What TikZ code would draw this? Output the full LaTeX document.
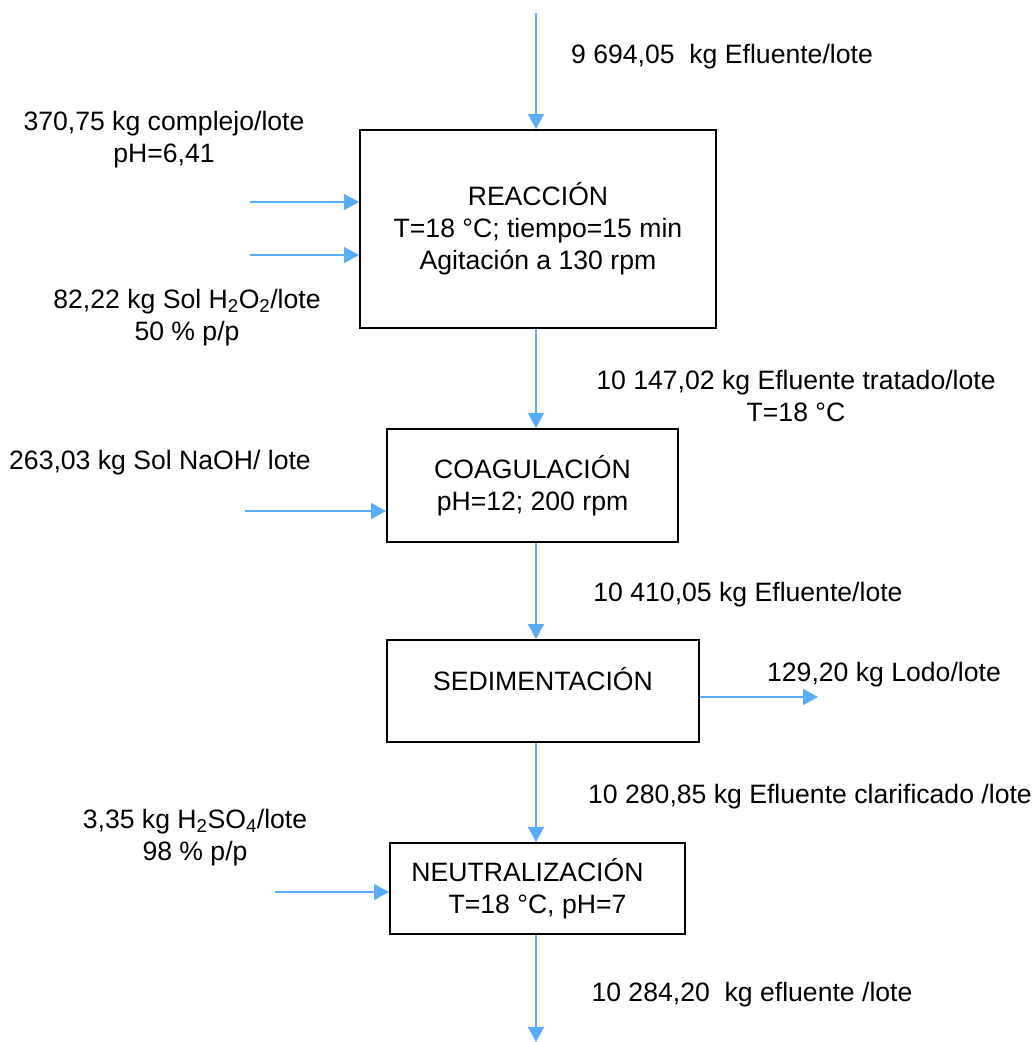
\documentclass[tikz,border=0pt]{standalone}
\usepackage{fontspec}
\setmainfont{Liberation Sans}
\usetikzlibrary{arrows.meta}
\tikzset{
    flow/.style={draw={rgb,255:red,88;green,172;blue,255}, line width=1.3pt, -{Triangle[length=15pt, width=16pt]}},
    proc/.style={draw, rectangle, line width=2pt, align=center, inner sep=0pt},
    lbl/.style={align=center, inner sep=0pt}
}
\begin{document}
\begin{tikzpicture}[x=1pt, y=-1pt, font=\fontsize{26.6}{32}\selectfont]
        \useasboundingbox (0,0) rectangle (1035,1042);
        \node[proc, minimum width=356pt, minimum height=198pt] (boxR) at (538, 229) {REACCIÓN\\T=18 °C; tiempo=15 min\\Agitación a 130 rpm};
        \node[proc, minimum width=291pt, minimum height=113pt] (boxC) at (532.5, 485.5) {COAGULACIÓN\\pH=12; 200 rpm};
        \node[proc, minimum width=312pt, minimum height=102pt, text depth=24pt] (boxS) at (543, 691) {SEDIMENTACIÓN};
        \node[proc, minimum width=295pt, minimum height=91pt] (boxN) at (537.5, 888.5) {NEUTRALIZACIÓN\hspace*{20pt}\\T=18 °C, pH=7};
        \coordinate (inTop) at (536, 13);
        \coordinate (inA) at (250, 202);
        \coordinate (inB) at (250, 255);
        \coordinate (inNaOH) at (245, 511);
        \coordinate (outLodo) at (818, 697);
        \coordinate (inAcid) at (275, 892);
        \coordinate (outEnd) at (536, 1042);
        \node[lbl] (lblIn) at (722, 57) {9 694,05~ kg Efluente/lote};
        \node[lbl] (lblCompl) at (164, 140) {370,75 kg complejo/lote\\pH=6,41};
        \node[lbl] (lblPerox) at (187, 317.5) {82,22 kg Sol H\textsubscript{2}O\textsubscript{2}/lote\\50 \% p/p};
        \node[lbl] (lblTrat) at (796, 396) {10 147,02 kg Efluente tratado/lote\\T=18 °C};
        \node[lbl] (lblNaOH) at (160, 463) {263,03 kg Sol NaOH/ lote};
        \node[lbl] (lblCoag) at (748, 595) {10 410,05 kg Efluente/lote};
        \node[lbl] (lblLodo) at (884, 675) {129,20 kg Lodo/lote};
        \node[lbl] (lblClar) at (810, 797) {10 280,85 kg Efluente clarificado /lote};
        \node[lbl] (lblAcid) at (195, 837.5) {3,35 kg H\textsubscript{2}SO\textsubscript{4}/lote\\98 \% p/p};
        \node[lbl] (lblOut) at (752, 995) {10 284,20~ kg efluente /lote};
        \draw[flow] (inTop) -- (boxR.north -| inTop);
        \draw[flow] (inA) -- (inA -| boxR.west);
        \draw[flow] (inB) -- (inB -| boxR.west);
        \draw[flow] (boxR.south -| inTop) -- (boxC.north -| inTop);
        \draw[flow] (inNaOH) -- (inNaOH -| boxC.west);
        \draw[flow] (boxC.south -| inTop) -- (boxS.north -| inTop);
        \draw[flow] (outLodo -| boxS.east) -- (outLodo);
        \draw[flow] (boxS.south -| inTop) -- (boxN.north -| inTop);
        \draw[flow] (inAcid) -- (inAcid -| boxN.west);
        \draw[flow] (boxN.south -| inTop) -- (outEnd);
    \end{tikzpicture}
\end{document}
